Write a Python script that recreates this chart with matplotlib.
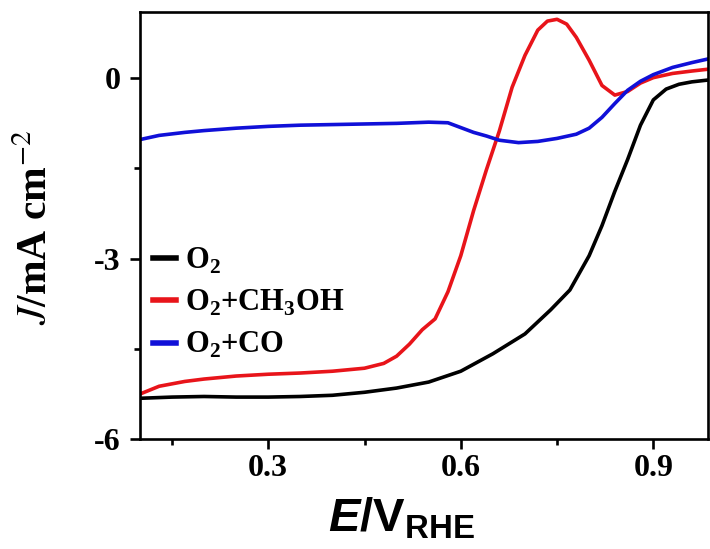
import matplotlib.pyplot as plt
from matplotlib.ticker import MultipleLocator

plt.rcParams['mathtext.fontset'] = 'custom'
plt.rcParams['mathtext.rm'] = 'Liberation Sans:bold'
plt.rcParams['mathtext.it'] = 'Liberation Sans:bold:italic'
plt.rcParams['mathtext.bf'] = 'Liberation Sans:bold'

# LSV curves, potential in V vs RHE, current density in mA cm^-2
e_o2 = [0.10, 0.15, 0.20, 0.25, 0.30, 0.35, 0.40, 0.45, 0.50, 0.55, 0.60, 0.65,
        0.70, 0.74, 0.77, 0.80, 0.82, 0.84, 0.86, 0.88, 0.90, 0.92, 0.94, 0.96, 0.985]
j_o2 = [-5.32, -5.30, -5.29, -5.30, -5.30, -5.29, -5.27, -5.22, -5.15, -5.05, -4.87, -4.58,
        -4.25, -3.85, -3.52, -2.95, -2.45, -1.88, -1.35, -0.78, -0.36, -0.18, -0.10, -0.06, -0.03]

e_meoh = [0.10, 0.13, 0.17, 0.20, 0.25, 0.30, 0.35, 0.40, 0.45, 0.48, 0.50, 0.52, 0.54,
          0.56, 0.58, 0.60, 0.62, 0.64, 0.66, 0.68, 0.70, 0.72, 0.735, 0.75, 0.765, 0.78,
          0.80, 0.82, 0.84, 0.86, 0.88, 0.90, 0.93, 0.96, 0.985]
j_meoh = [-5.25, -5.12, -5.04, -5.00, -4.95, -4.92, -4.90, -4.87, -4.82, -4.74, -4.62, -4.42, -4.18,
          -4.00, -3.55, -2.95, -2.20, -1.52, -0.88, -0.15, 0.38, 0.80, 0.95, 0.98, 0.90, 0.68,
          0.30, -0.12, -0.28, -0.22, -0.08, 0.01, 0.08, 0.12, 0.15]

e_co = [0.10, 0.13, 0.17, 0.20, 0.25, 0.30, 0.35, 0.40, 0.45, 0.50, 0.55, 0.58, 0.60,
        0.62, 0.64, 0.66, 0.69, 0.72, 0.75, 0.78, 0.80, 0.82, 0.84, 0.86, 0.88, 0.90,
        0.93, 0.96, 0.985]
j_co = [-1.02, -0.95, -0.90, -0.87, -0.83, -0.80, -0.78, -0.77, -0.76, -0.75, -0.73, -0.74, -0.82,
        -0.90, -0.96, -1.03, -1.07, -1.05, -1.00, -0.93, -0.83, -0.65, -0.42, -0.20, -0.05, 0.06,
        0.18, 0.26, 0.32]

labels = ['O$_\\mathregular{2}$', 'O$_\\mathregular{2}$+CH$_\\mathregular{3}$OH', 'O$_\\mathregular{2}$+CO']

fig = plt.figure(figsize=(7.1, 5.49), dpi=100)
ax = fig.add_axes([0.197, 0.2, 0.8, 0.778])

ax.plot(e_o2, j_o2, color='black', lw=2.6, label=labels[0])
ax.plot(e_meoh, j_meoh, color='#e8141a', lw=2.6, label=labels[1])
ax.plot(e_co, j_co, color='#1010d8', lw=2.6, label=labels[2])

ax.set_xlim(0.1, 0.985)
ax.set_ylim(-6, 1.1)
ax.xaxis.set_minor_locator(MultipleLocator(0.15))
ax.yaxis.set_minor_locator(MultipleLocator(1.5))
ax.set_xticks([0.3, 0.6, 0.9])
ax.set_xticklabels(['0.3', '0.6', '0.9'])
ax.set_yticks([-6, -3, 0])
ax.set_yticklabels(['-6', '-3', '0'])

for s in ax.spines.values():
    s.set_linewidth(1.9)
ax.tick_params(which='major', direction='out', length=7, width=1.9)
ax.tick_params(which='minor', direction='out', length=4.5, width=1.9)
ax.tick_params(axis='x', which='major', pad=4)
ax.tick_params(axis='y', which='major', pad=7)
for t in ax.get_xticklabels() + ax.get_yticklabels():
    t.set_fontfamily('Liberation Serif')
    t.set_fontweight('bold')
    t.set_fontsize(23)

# axis titles
fig.text(0.052, 0.585, r'$J$/mA cm$^{-2}$', rotation=90, ha='center', va='center',
         fontsize=30, fontweight='bold', fontfamily='Liberation Serif', math_fontfamily='stix')
fig.text(0.565, 0.055, r'$\mathit{E}$/V$_{\mathrm{RHE}}$', ha='center', va='center',
         fontsize=34, fontweight='bold', fontfamily='Liberation Sans')

leg = ax.legend(loc='upper left', bbox_to_anchor=(0.005, 0.478), frameon=False,
                handlelength=0.75, handletextpad=0.3, labelspacing=0.4, borderaxespad=0.05,
                borderpad=0.3, prop={'family': 'Liberation Serif', 'weight': 'bold', 'size': 22})
for h in leg.get_lines():
    h.set_linewidth(4)

fig.savefig('out.png', dpi=100)
